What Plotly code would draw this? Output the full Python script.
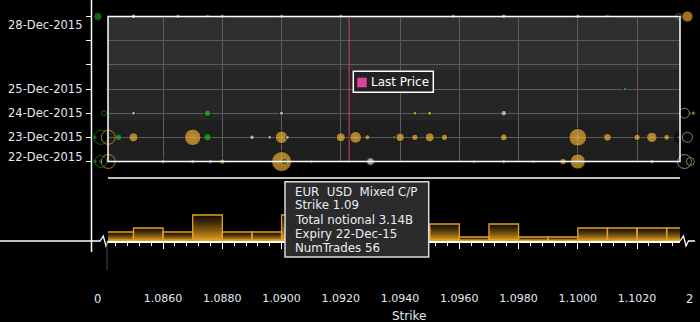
import plotly.graph_objects as go

# ---------------- data ----------------
expiry_dates = ["2015-12-22", "2015-12-23", "2015-12-24", "2015-12-25",
                "2015-12-26", "2015-12-27", "2015-12-28"]
label_dates = ["2015-12-28", "2015-12-25", "2015-12-24", "2015-12-23", "2015-12-22"]
label_texts = ["28-Dec-2015", "25-Dec-2015", "24-Dec-2015", "23-Dec-2015", "22-Dec-2015"]

strike_ticks = [1.0860, 1.0880, 1.0900, 1.0920, 1.0940, 1.0960, 1.0980, 1.1000, 1.1020]
strike_range = [1.08414, 1.10345]
last_price = 1.09228

# orange bubbles (Mixed C/P), notional in billions
mixed_strike = [1.0865, 1.0975,
                1.0945, 1.0950,
                1.0850, 1.0870, 1.0900, 1.0920, 1.0925, 1.0929, 1.0940, 1.0945, 1.0950,
                1.0955, 1.0975, 1.1000, 1.1010, 1.1020, 1.1025, 1.1030,
                1.0870, 1.0880, 1.0900, 1.0995, 1.1000]
mixed_expiry = ["2015-12-28", "2015-12-28",
                "2015-12-24", "2015-12-24",
                "2015-12-23", "2015-12-23", "2015-12-23", "2015-12-23", "2015-12-23",
                "2015-12-23", "2015-12-23", "2015-12-23", "2015-12-23", "2015-12-23",
                "2015-12-23", "2015-12-23", "2015-12-23", "2015-12-23", "2015-12-23",
                "2015-12-23",
                "2015-12-22", "2015-12-22", "2015-12-22", "2015-12-22", "2015-12-22"]
mixed_notional = [0.15, 0.19,
                  0.05, 0.15,
                  0.66, 2.15, 1.25, 0.66, 1.10, 0.22, 0.58, 0.34, 0.66,
                  0.34, 0.40, 2.50, 0.50, 0.34, 0.88, 0.28,
                  0.12, 0.22, 3.14, 0.34, 1.82]

# green bubbles (Puts)
put_strike = [1.0875, 1.1010, 1.1016, 1.0875, 1.0845, 1.0875, 1.0938,
              1.0901, 1.0910, 1.0965, 1.0985]
put_expiry = ["2015-12-28", "2015-12-28", "2015-12-25", "2015-12-24",
              "2015-12-23", "2015-12-23", "2015-12-23",
              "2015-12-22", "2015-12-22", "2015-12-22", "2015-12-22"]
put_notional = [0.15, 0.07, 0.05, 0.40, 0.38, 0.50, 0.03, 0.07, 0.05, 0.07, 0.07]

# light blue bubbles (Calls)
call_strike = [1.0850, 1.0880, 1.0900, 1.0920, 1.0958, 1.1000,
               1.0850, 1.0900, 1.0975,
               1.0890, 1.0896, 1.0902, 1.1034,
               1.0860, 1.0876, 1.0930, 1.0975, 1.1025]
call_expiry = ["2015-12-28"] * 6 + ["2015-12-24"] * 3 + ["2015-12-23"] * 4 + ["2015-12-22"] * 5
call_notional = [0.19, 0.03, 0.03, 0.03, 0.05, 0.15,
                 0.07, 0.15, 0.28,
                 0.19, 0.07, 0.07, 0.07,
                 0.05, 0.10, 0.50, 0.12, 0.12]

# out-of-range markers drawn beyond the plot edges
oor_ring_strike = [1.0839, 1.0839, 1.0840, 1.08415, 1.08415,
                   1.1034, 1.1036, 1.1037, 1.1036, 1.1038]
oor_ring_expiry = ["2015-12-23", "2015-12-22", "2015-12-24", "2015-12-23", "2015-12-22",
                   "2015-12-28", "2015-12-24", "2015-12-23", "2015-12-22", "2015-12-22"]
oor_ring_size = [14, 12, 5, 14, 14, 6, 10, 10, 14, 8]
oor_ring_kind = ["put", "put", "put", "mixed", "mixed",
                 "dark", "call", "call", "call", "mixed"]

oor_dot_strike = [1.0837, 1.0837, 1.0839, 1.0838, 1.0841,
                  1.1037, 1.1038, 1.1039, 1.10345, 1.1035]
oor_dot_expiry = ["2015-12-23", "2015-12-22", "2015-12-22", "2015-12-28", "2015-12-25",
                  "2015-12-28", "2015-12-24", "2015-12-24", "2015-12-23", "2015-12-22"]
oor_dot_size = [4, 4, 4, 8, 2, 11, 3, 4, 12, 13]
oor_dot_kind = ["put", "put", "put", "put", "put",
                "mixed", "put", "mixed", "dark", "dark"]

# histogram of total notional per strike bin (billions)
hist_strike = [1.0845, 1.0855, 1.0865, 1.0875, 1.0885, 1.0895, 1.0905, 1.0915,
               1.0925, 1.0935, 1.0945, 1.0955, 1.0965, 1.0975, 1.0985, 1.0995,
               1.1005, 1.1015, 1.1025, 1.1035]
hist_notional = [1.8, 2.6, 1.8, 5.2, 1.8, 1.8, 5.2, 2.6,
                 3.4, 1.8, 2.6, 3.4, 0.8, 3.4, 0.8, 0.8,
                 2.6, 2.6, 2.6, 2.6]
hist_bin_width = 0.001

tooltip_lines = ["EUR\u00a0 USD\u00a0 Mixed C/P", "Strike 1.09", "Total notional 3.14B",
                 "Expiry 22-Dec-15", "NumTrades 56"]

# ---------------- style ----------------
W, H = 700, 322
ML, MR, MT, MB = 91, 0, 16, 22
PW, PH = W - ML - MR, H - MT - MB


def px_x(p):
    return (p - ML) / PW


def px_y(p):
    return (H - MB - p) / PH


FONT = "DejaVu Sans"
TXT = "#e2e9f2"
ORANGE = "#e2a126"
ORANGE_HI = "#f3bb45"
GREEN = "#149414"
GREEN_HI = "#33c033"
BLUE = "#9dbde0"
BLUE_HI = "#dcebf9"
PINK = "#e0449a"
GRID = "#5c5c5c"
kind_color = {"mixed": ORANGE, "put": GREEN, "call": BLUE, "dark": "#0a0a0a"}

SIZEREF = 3.14 / (2 * 10.0 ** 2)

xdom = [px_x(108), px_x(680)]
ydom = [px_y(161.5), px_y(16.5)]
# wide helper axis spanning whole width with same scale (for edge markers)
span = (strike_range[1] - strike_range[0]) / (xdom[1] - xdom[0])
wide_range = [strike_range[0] - xdom[0] * span, strike_range[0] + (1 - xdom[0]) * span]

fig = go.Figure()

# last price line
fig.add_trace(go.Scatter(x=[last_price, last_price], y=[expiry_dates[0], expiry_dates[-1]],
                         mode="lines", line=dict(color="#cc3d8a", width=1),
                         hoverinfo="skip", showlegend=False))


def bubbles(xs, ys, ns, col, hi, name):
    return go.Scatter(x=xs, y=ys, mode="markers", name=name, cliponaxis=False,
                      marker=dict(size=ns, sizemode="area", sizeref=SIZEREF, sizemin=2,
                                  color=col, gradient=dict(type="radial", color=hi),
                                  line=dict(color="#101010", width=1)),
                      showlegend=False)


fig.add_trace(bubbles(mixed_strike, mixed_expiry, mixed_notional, ORANGE, ORANGE_HI, "Mixed C/P"))
fig.add_trace(bubbles(put_strike, put_expiry, put_notional, GREEN, GREEN_HI, "Put"))
fig.add_trace(bubbles(call_strike, call_expiry, call_notional, BLUE, BLUE_HI, "Call"))

# out-of-range markers on the wide helper axes
fig.add_trace(go.Scatter(x=oor_dot_strike, y=oor_dot_expiry, mode="markers", cliponaxis=False,
                         xaxis="x3", yaxis="y3",
                         marker=dict(size=oor_dot_size, color=[kind_color[k] for k in oor_dot_kind],
                                     line=dict(color="#101010", width=1)),
                         hoverinfo="skip", showlegend=False))
fig.add_trace(go.Scatter(x=oor_ring_strike, y=oor_ring_expiry, mode="markers", cliponaxis=False,
                         xaxis="x3", yaxis="y3",
                         marker=dict(size=oor_ring_size, symbol="circle-open",
                                     color=[kind_color[k] if k != "dark" else "#777" for k in oor_ring_kind],
                                     line=dict(width=1)),
                         hoverinfo="skip", showlegend=False))

# histogram with vertical gradient (overlay of shrinking bars)
N = 14
c_top = (26, 19, 4)
c_bot = (228, 158, 30)
for k in range(N):
    f = 1 - k / N
    t = (k / (N - 1)) ** 1.3
    col = "rgb(%d,%d,%d)" % tuple(int(a + (b - a) * t) for a, b in zip(c_top, c_bot))
    fig.add_trace(go.Bar(x=hist_strike, y=[v * f for v in hist_notional], width=hist_bin_width,
                         marker=dict(color=col, line=dict(width=0)),
                         xaxis="x2", yaxis="y2", hoverinfo="skip", showlegend=False))
fig.add_trace(go.Bar(x=hist_strike, y=hist_notional, width=hist_bin_width,
                     marker=dict(color="rgba(0,0,0,0)", line=dict(color=ORANGE, width=1.3)),
                     xaxis="x2", yaxis="y2", hoverinfo="skip", showlegend=False))

shapes = [
    # background bands
    dict(type="rect", xref="x domain", yref="y domain", x0=0, x1=1, y0=0, y1=0.281,
         fillcolor="#1f1f1f", line=dict(width=0), layer="below"),
    dict(type="rect", xref="x domain", yref="y domain", x0=0, x1=1, y0=0.281, y1=0.626,
         fillcolor="#262626", line=dict(width=0), layer="below"),
    dict(type="rect", xref="x domain", yref="y domain", x0=0, x1=1, y0=0.626, y1=1,
         fillcolor="#2e3030", line=dict(width=0), layer="below"),
    # plot border
    dict(type="rect", xref="paper", yref="paper", x0=xdom[0], x1=xdom[1], y0=ydom[0], y1=ydom[1],
         line=dict(color="white", width=1.5), layer="above"),
    # y axis spine
    dict(type="line", xref="paper", yref="paper", x0=px_x(91.5), x1=px_x(91.5),
         y0=px_y(252), y1=px_y(0), line=dict(color="white", width=1.5)),
    # histogram top line
    dict(type="line", xref="paper", yref="paper", x0=xdom[0], x1=xdom[1], y0=px_y(178), y1=px_y(178),
         line=dict(color="white", width=1.5)),
    # baseline extension + break marks
    dict(type="path", xref="paper", yref="paper",
         path="M %f,%f L %f,%f L %f,%f L %f,%f L %f,%f" % (
             px_x(0), px_y(241), px_x(100), px_y(241), px_x(103.3), px_y(236),
             px_x(106), px_y(246), px_x(108), px_y(241)),
         line=dict(color="white", width=1.3)),
    dict(type="path", xref="paper", yref="paper",
         path="M %f,%f L %f,%f L %f,%f L %f,%f L %f,%f" % (
             px_x(680), px_y(241), px_x(683.5), px_y(236), px_x(686), px_y(246),
             px_x(688.5), px_y(241), px_x(695), px_y(241)),
         line=dict(color="white", width=1.3)),
    dict(type="line", xref="paper", yref="paper", x0=px_x(107), x1=px_x(107),
         y0=px_y(242), y1=px_y(270), line=dict(color="#4a4a4a", width=1)),
    # legend box
    dict(type="rect", xref="paper", yref="paper", x0=px_x(353.3), x1=px_x(433.3),
         y0=px_y(92.3), y1=px_y(71.3), fillcolor="#222222",
         line=dict(color="white", width=1.5), layer="above"),
    dict(type="rect", xref="paper", yref="paper", x0=px_x(357.3), x1=px_x(366.7),
         y0=px_y(87.3), y1=px_y(77.7), fillcolor=PINK, line=dict(width=0), layer="above"),
    # tooltip box
    dict(type="rect", xref="paper", yref="paper", x0=px_x(285), x1=px_x(428.7),
         y0=px_y(257), y1=px_y(181.7), fillcolor="#2b2b2b",
         line=dict(color="#dcdcdc", width=1.5), layer="above"),
]

label_shift = {"2015-12-28": -8, "2015-12-22": 5}
annotations = []
for d, t in zip(label_dates, label_texts):
    annotations.append(dict(x=0, xref="paper", y=d, yref="y", text=t, showarrow=False,
                            xanchor="right", yanchor="middle", xshift=-7,
                            yshift=label_shift.get(d, 0),
                            font=dict(family=FONT, size=11.5, color=TXT)))
annotations.append(dict(x=px_x(369), y=px_y(82), xref="paper", yref="paper", text="Last Price",
                        showarrow=False, xanchor="left", yanchor="middle",
                        font=dict(family=FONT, size=12, color="white")))
for i, line in enumerate(tooltip_lines):
    annotations.append(dict(x=px_x(293), y=px_y(191.5 + 14 * i), xref="paper", yref="paper",
                            text=line, showarrow=False, xanchor="left", yanchor="middle",
                            font=dict(family=FONT, size=11.8, color="#e8eef6")))
annotations += [
    dict(x=px_x(97), y=px_y(299), xref="paper", yref="paper", text="0", showarrow=False,
         xanchor="center", yanchor="middle", font=dict(family=FONT, size=11.5, color=TXT)),
    dict(x=px_x(689), y=px_y(299), xref="paper", yref="paper", text="2", showarrow=False,
         xanchor="center", yanchor="middle", font=dict(family=FONT, size=11.5, color=TXT)),
    dict(x=px_x(409), y=px_y(316), xref="paper", yref="paper", text="Strike", showarrow=False,
         xanchor="center", yanchor="middle", font=dict(family=FONT, size=12, color=TXT)),
]

fig.update_layout(
    width=W, height=H, margin=dict(l=ML, r=MR, t=MT, b=MB),
    paper_bgcolor="black", plot_bgcolor="rgba(0,0,0,0)",
    barmode="overlay", showlegend=False,
    font=dict(family=FONT, color=TXT),
    xaxis=dict(domain=xdom, range=strike_range, anchor="y", showticklabels=False, ticks="",
               showgrid=True, gridcolor=GRID, gridwidth=1, tickvals=strike_ticks,
               zeroline=False, showline=False),
    yaxis=dict(domain=ydom, type="date",
               range=[expiry_dates[0], expiry_dates[-1]], anchor="free", position=0,
               tickvals=expiry_dates, ticks="outside", ticklen=5, tickcolor="white",
               tickwidth=1, showticklabels=False, showgrid=True, gridcolor=GRID,
               zeroline=False, showline=False),
    xaxis2=dict(domain=xdom, range=strike_range, anchor="y2", showgrid=False,
                showline=True, linecolor="white", linewidth=2, ticks="outside", ticklen=6,
                tickcolor="white", tickwidth=1, tickvals=strike_ticks, tickformat=".4f",
                tickfont=dict(family=FONT, size=11, color=TXT), ticklabelstandoff=40,
                minor=dict(ticks="outside", ticklen=3, tickcolor="white", tickwidth=1,
                           dtick=0.0004, tick0=1.086, showgrid=False),
                zeroline=False),
    yaxis2=dict(domain=[px_y(241), px_y(178)], range=[0, 12.6], visible=False,
                showgrid=False, zeroline=False),
    xaxis3=dict(domain=[0, 1], range=wide_range, anchor="y3", visible=False,
                showgrid=False, zeroline=False),
    yaxis3=dict(domain=ydom, type="date", range=[expiry_dates[0], expiry_dates[-1]],
                anchor="x3", visible=False, showgrid=False, zeroline=False),
    shapes=shapes, annotations=annotations,
)

fig.write_html("out.html")
